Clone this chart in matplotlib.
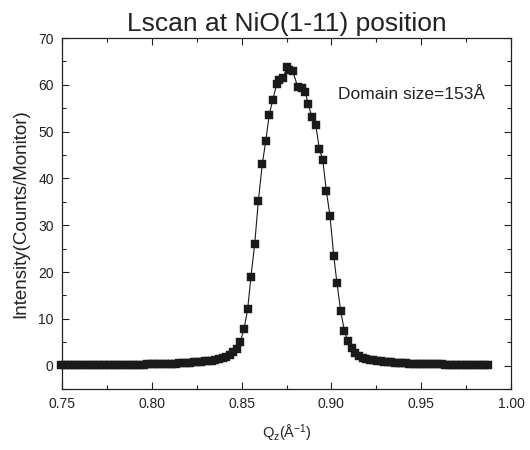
import matplotlib
matplotlib.use("Agg")
import matplotlib.pyplot as plt
from matplotlib.ticker import MultipleLocator

plt.rcParams['font.family'] = ['Liberation Sans', 'DejaVu Sans']
plt.rcParams['mathtext.default'] = 'regular'

# Q_z values (Å^-1)
q_left = [0.7494, 0.7514, 0.7534, 0.7554, 0.7574, 0.7594, 0.7614, 0.7634, 0.7654, 0.7674,
          0.7694, 0.7714, 0.7734, 0.7754, 0.7774, 0.7794, 0.7814, 0.7834, 0.7854, 0.7874,
          0.7894, 0.7914, 0.7934, 0.7954, 0.7974, 0.7994, 0.8014, 0.8034, 0.8054, 0.8074,
          0.8094, 0.8114, 0.8134, 0.8154, 0.8174, 0.8194, 0.8214, 0.8234, 0.8254, 0.8274,
          0.8294, 0.8314, 0.8334, 0.8354, 0.8374, 0.8394, 0.8414, 0.8434]
i_left = [0.05, 0.06, 0.05, 0.07, 0.06, 0.08, 0.07, 0.09, 0.08, 0.10,
          0.10, 0.11, 0.12, 0.11, 0.13, 0.14, 0.13, 0.15, 0.16, 0.17,
          0.18, 0.19, 0.21, 0.22, 0.24, 0.26, 0.28, 0.30, 0.32, 0.34,
          0.37, 0.40, 0.43, 0.46, 0.50, 0.54, 0.62, 0.67, 0.72, 0.80,
          0.88, 0.97, 1.07, 1.20, 1.38, 1.58, 1.85, 2.20]

q_peak = [0.8454, 0.8476, 0.8493, 0.8513, 0.8534, 0.8552, 0.8573, 0.8593, 0.8615, 0.8634,
          0.8654, 0.8673, 0.8695, 0.8710, 0.8732, 0.8751, 0.8764, 0.8785, 0.8812, 0.8835,
          0.8855, 0.8871, 0.8892, 0.8913, 0.8933, 0.8952, 0.8972, 0.8992, 0.9013, 0.9031,
          0.9052, 0.9072, 0.9092, 0.9113, 0.9133]
i_peak = [2.8, 3.6, 5.1, 7.8, 12.1, 19.0, 26.0, 35.1, 43.0, 47.9,
          53.6, 56.7, 60.1, 61.0, 61.4, 63.7, 63.2, 62.9, 59.6, 59.3,
          58.4, 55.8, 53.1, 51.4, 46.3, 43.9, 37.3, 32.0, 23.5, 17.6,
          11.6, 7.5, 5.2, 3.8, 2.6]

q_right = [0.9154, 0.9174, 0.9194, 0.9214, 0.9234, 0.9254, 0.9274, 0.9294, 0.9314, 0.9334,
           0.9354, 0.9374, 0.9394, 0.9414, 0.9434, 0.9454, 0.9474, 0.9494, 0.9514, 0.9534,
           0.9554, 0.9574, 0.9594, 0.9614, 0.9634, 0.9654, 0.9674, 0.9694, 0.9714, 0.9734,
           0.9754, 0.9774, 0.9794, 0.9814, 0.9834, 0.9854, 0.9874]
i_right = [2.0, 1.7, 1.5, 1.3, 1.15, 1.0, 0.9, 0.82, 0.75, 0.68,
           0.62, 0.57, 0.52, 0.48, 0.44, 0.41, 0.38, 0.35, 0.33, 0.31,
           0.29, 0.27, 0.25, 0.24, 0.22, 0.21, 0.20, 0.19, 0.18, 0.17,
           0.16, 0.15, 0.15, 0.14, 0.13, 0.13, 0.12]

q = q_left + q_peak + q_right
inten = i_left + i_peak + i_right

title = "Lscan at NiO(1-11) position"
annotation = "Domain size=153Å"
xlabel = "Q$_z$(Å$^{-1}$)"
ylabel = "Intensity(Counts/Monitor)"
xticks = [0.75, 0.80, 0.85, 0.90, 0.95, 1.00]
yticks = [0, 10, 20, 30, 40, 50, 60, 70]

fig = plt.figure(figsize=(5.3, 4.5), dpi=100)
ax = fig.add_axes([62/530, 1-389/450, (511-62)/530, (389-38)/450])

ax.plot(q, inten, '-', color='#1a1a1a', lw=0.8, zorder=2)
ax.plot(q, inten, 's', color='#1a1a1a', ms=5.6, mec='#1a1a1a', mew=0.3, zorder=3, clip_on=False)

ax.set_xlim(0.75, 1.00)
ax.set_ylim(-5, 70)
ax.set_xticks(xticks)
ax.set_xticklabels([f"{v:.2f}" for v in xticks])
ax.set_yticks(yticks)
ax.xaxis.set_minor_locator(MultipleLocator(0.025))
ax.yaxis.set_minor_locator(MultipleLocator(5))
ax.tick_params(which='both', direction='in', top=True, right=True, labelsize=10, colors='#222222',
               width=0.8)
ax.tick_params(which='major', length=5, pad=6)
ax.tick_params(which='minor', length=3)
for s in ax.spines.values():
    s.set_linewidth(0.9)
    s.set_color('#222222')

ax.set_title(title, fontsize=19, color='#222222', pad=5)
ax.set_xlabel(xlabel, fontsize=10.5, color='#222222', labelpad=8)
ax.set_ylabel(ylabel, fontsize=13.5, color='#222222', labelpad=6)
ax.text(0.9037, 58.0, annotation, fontsize=12.5, color='#222222', va='center', ha='left')

fig.savefig("out.png", dpi=100)
